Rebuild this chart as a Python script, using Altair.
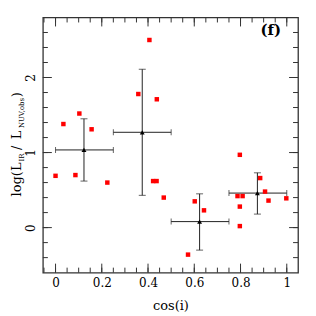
import altair as alt
import pandas as pd
import numpy as np

# Red individual points
red_x = [0.000, 0.034, 0.086, 0.103, 0.156, 0.224, 0.358, 0.406, 0.422, 0.437, 0.438, 0.468,
         0.573, 0.602, 0.642, 0.787, 0.797, 0.797, 0.797, 0.809, 0.885, 0.906, 0.921, 0.998]
red_y = [0.69, 1.38, 0.70, 1.52, 1.31, 0.60, 1.78, 2.50, 0.62, 0.62, 1.71, 0.40,
         -0.36, 0.35, 0.23, 0.42, 0.97, 0.28, 0.02, 0.42, 0.66, 0.48, 0.36, 0.39]

# Binned means with error bars
bin_x = [0.123, 0.375, 0.623, 0.873]
bin_y = [1.035, 1.27, 0.08, 0.46]
bin_xlo = [0.0, 0.25, 0.50, 0.75]
bin_xhi = [0.25, 0.50, 0.75, 1.0]
bin_ylo = [0.62, 0.43, -0.30, 0.18]
bin_yhi = [1.45, 2.11, 0.45, 0.73]

x_labels = [0, 0.2, 0.4, 0.6, 0.8, 1]
y_labels = [0, 1, 2]
x_minor = [round(v, 2) for v in np.arange(-0.05, 1.05, 0.05)]
x_major = [0, 0.2, 0.4, 0.6, 0.8, 1.0]
y_minor = [round(v, 2) for v in np.arange(-0.4, 2.7, 0.2)]
y_major = [0, 1, 2]

W, H = 256, 256
FONT = "DejaVu Serif"
INK = "#222"

red = pd.DataFrame({"x": red_x, "y": red_y})
bins = pd.DataFrame({"x": bin_x, "y": bin_y, "xlo": bin_xlo, "xhi": bin_xhi,
                     "ylo": bin_ylo, "yhi": bin_yhi})

xs = alt.Scale(domain=[-0.0547, 1.0487], nice=False, zero=False)
ys = alt.Scale(domain=[-0.6, 2.8], nice=False, zero=False)

xaxis = alt.Axis(values=x_labels, ticks=False, tickSize=0, domain=False, grid=False,
                 labelFont=FONT, labelFontSize=12, labelPadding=5, labelColor="black",
                 title="cos(i)", titleFont=FONT, titleFontSize=13, titleFontWeight="normal",
                 titlePadding=11, titleColor="black",
                 labelExpr="datum.value == 0 ? '0' : datum.value == 1 ? '1' : format(datum.value, '.1f')")
yaxis = alt.Axis(values=y_labels, ticks=False, tickSize=0, domain=False, grid=False,
                 labelFont=FONT, labelFontSize=12, labelPadding=8, labelColor="black",
                 labelAngle=270, labelAlign="center", labelBaseline="alphabetic",
                 labelExpr="format(datum.value, 'd')",
                 title=None)

pts = alt.Chart(red).mark_square(size=20, color="#ff0000", opacity=1).encode(
    x=alt.X("x:Q", scale=xs, axis=xaxis),
    y=alt.Y("y:Q", scale=ys, axis=yaxis),
)

vbar = alt.Chart(bins).mark_rule(color=INK, strokeWidth=1).encode(
    x="x:Q", y="ylo:Q", y2="yhi:Q")
hbar = alt.Chart(bins).mark_rule(color=INK, strokeWidth=1).encode(
    y="y:Q", x="xlo:Q", x2="xhi:Q")
cap_lo = alt.Chart(bins).mark_tick(orient="horizontal", size=7, thickness=1, color=INK).encode(
    x="x:Q", y="ylo:Q")
cap_hi = alt.Chart(bins).mark_tick(orient="horizontal", size=7, thickness=1, color=INK).encode(
    x="x:Q", y="yhi:Q")
cap_l = alt.Chart(bins).mark_tick(orient="vertical", size=6, thickness=1, color=INK).encode(
    x="xlo:Q", y="y:Q")
cap_r = alt.Chart(bins).mark_tick(orient="vertical", size=6, thickness=1, color=INK).encode(
    x="xhi:Q", y="y:Q")
tri = alt.Chart(bins).mark_point(shape="triangle-up", filled=True, size=24, color="black",
                                 opacity=1).encode(x="x:Q", y="y:Q")

def xticks(vals, length):
    df = pd.DataFrame({"v": vals})
    b = alt.Chart(df).mark_rule(color="#333", strokeWidth=1).encode(
        x="v:Q", y=alt.value(H), y2=alt.value(H - length))
    t = alt.Chart(df).mark_rule(color="#333", strokeWidth=1).encode(
        x="v:Q", y=alt.value(0), y2=alt.value(length))
    return [b, t]

def yticks(vals, length):
    df = pd.DataFrame({"v": vals})
    l = alt.Chart(df).mark_rule(color="#333", strokeWidth=1).encode(
        y="v:Q", x=alt.value(0), x2=alt.value(length))
    r = alt.Chart(df).mark_rule(color="#333", strokeWidth=1).encode(
        y="v:Q", x=alt.value(W), x2=alt.value(W - length))
    return [l, r]

tick_layers = xticks(x_minor, 5) + xticks(x_major, 9) + yticks(y_minor, 5) + yticks(y_major, 9)

# y-axis title with subscripts, built from text pieces
title_parts = [("log(L", 13, False, 179.5), ("IR", 7, True, 144.5), ("/", 13, False, 133.0),
               ("L", 13, False, 122.2), ("NUV,obs", 7, True, 111.0), (")", 13, False, 80.0)]
title_layers = []
for txt, fs, sub, py in title_parts:
    title_layers.append(
        alt.Chart(pd.DataFrame({"t": [txt]})).mark_text(
            font=FONT, fontSize=fs, angle=270, align="left", baseline="alphabetic",
            color="black").encode(
            text="t:N", x=alt.value(-18.5 if sub else -22.0), y=alt.value(py)))

panel = alt.Chart(pd.DataFrame({"t": ["(f)"]})).mark_text(
    font=FONT, fontSize=15, fontWeight="bold", align="center", baseline="middle",
    color="black").encode(text="t:N", x=alt.value(228.7), y=alt.value(13))

chart = alt.layer(
    *tick_layers, hbar, vbar, cap_lo, cap_hi, cap_l, cap_r, pts, tri, *title_layers, panel
).properties(
    width=W, height=H,
    autosize=alt.AutoSizeParams(type="none"),
    padding={"left": 35, "top": 9, "right": 10, "bottom": 40},
    background="white",
).configure_view(stroke="#333", strokeWidth=1.3)

chart.save("out.html", embed_options={"renderer": "svg", "actions": False})
